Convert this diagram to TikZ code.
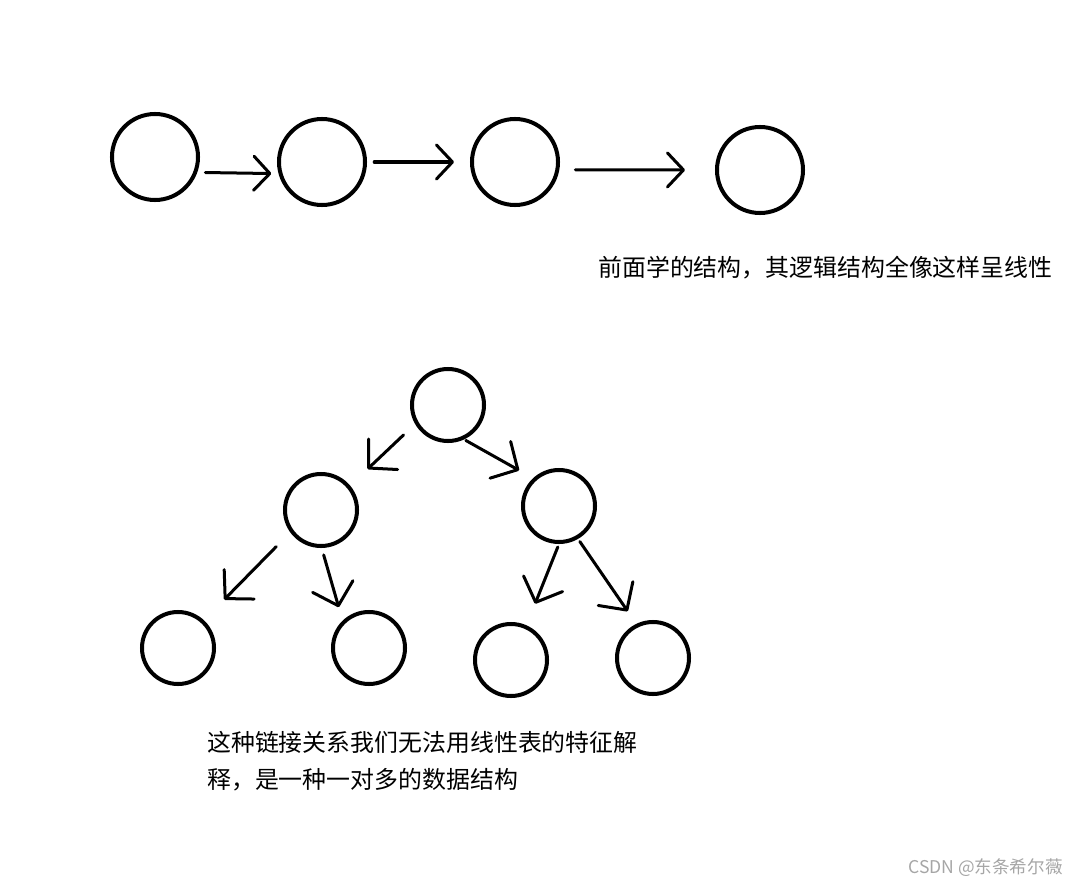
\documentclass[tikz,border=0pt]{standalone}
\usepackage{fontspec}
\setmainfont{Noto Sans CJK SC}
\usepackage{tikz}
\usetikzlibrary{arrows.meta}

\begin{document}
\begin{tikzpicture}[
				x=0.025cm, y=-0.025cm,
				>={Straight Barb[length=0.4cm, width=0.85cm, round]},
				big/.style={
					circle,
					draw,
					line width=0.1cm,
					minimum size=2.15cm
				},
				small/.style={
					circle,
					draw,
					line width=0.1cm,
					minimum size=1.8cm
				},
				link/.style={
					->,
					line width=0.075cm,
					line cap=round
				},
				branch/.style={
					-{Straight Barb[length=0.5cm, width=1.05cm, round]},
					line width=0.075cm,
					line cap=round
				},
				note/.style={
					anchor=west,
					inner sep=0pt,
					font=\fontsize{17}{26.5}\selectfont
				}
				]

				\useasboundingbox (0,0) rectangle (1080,887);

				%------------------------------------------------
				% LINEAR STRUCTURE (top row)
				%------------------------------------------------

				\node[big] (C1) at (155,157) {};
				\node[big] (C2) at (322,162) {};
				\node[big] (C3) at (515,162) {};
				\node[big] (C4) at (760,170) {};

				\draw[link, shorten <=0.2cm, shorten >=0.18cm] (C1.-20) -- (C2.195);
				\draw[link, shorten <=0.18cm, shorten >=0.4cm] (C2.0) -- (C3.180);
				\draw[link, shorten <=0.4cm, shorten >=0.75cm] (C3.-10) -- (C4.180);

				\node[note] (N1) at (598,268) {前面学的结构，其逻辑结构全像这样呈线性};

				%------------------------------------------------
				% TREE STRUCTURE
				%------------------------------------------------

				\node[small] (T)   at (448,405) {};
				\node[small] (TL)  at (321,510) {};
				\node[small] (TR)  at (559,506) {};
				\node[small] (TLL) at (178,648) {};
				\node[small] (TLR) at (369,648) {};
				\node[small] (TRL) at (511,660) {};
				\node[small] (TRR) at (653,658) {};

				\draw[branch, shorten <=0.4cm, shorten >=0.6cm] (T.210) -- (TL.40);
				\draw[branch, shorten <=0.05cm, shorten >=0.4cm] (T.-65) -- (TR.133);
				\draw[branch, shorten <=0.5cm, shorten >=0.72cm] (TL.216) -- (TLL.47);
				\draw[branch, shorten <=0.18cm, shorten >=0.35cm] (TL.-89) -- (TLR.134);
				\draw[branch, shorten <=0.08cm, shorten >=0.58cm] (TR.-90) -- (TRL.66);
				\draw[branch, shorten <=0.08cm, shorten >=0.38cm] (TR.-60) -- (TRR.116);

				\node[note, anchor=north west, align=left] (N2) at (207,731)
				{这种链接关系我们无法用线性表的特征解\\释，是一种一对多的数据结构};

				%------------------------------------------------
				% WATERMARK
				%------------------------------------------------

				\node[note, anchor=east, text=gray!70, font=\fontsize{12.5}{14}\selectfont] (W) at (1063,868) {CSDN @东条希尔薇};

			\end{tikzpicture}
\end{document}
